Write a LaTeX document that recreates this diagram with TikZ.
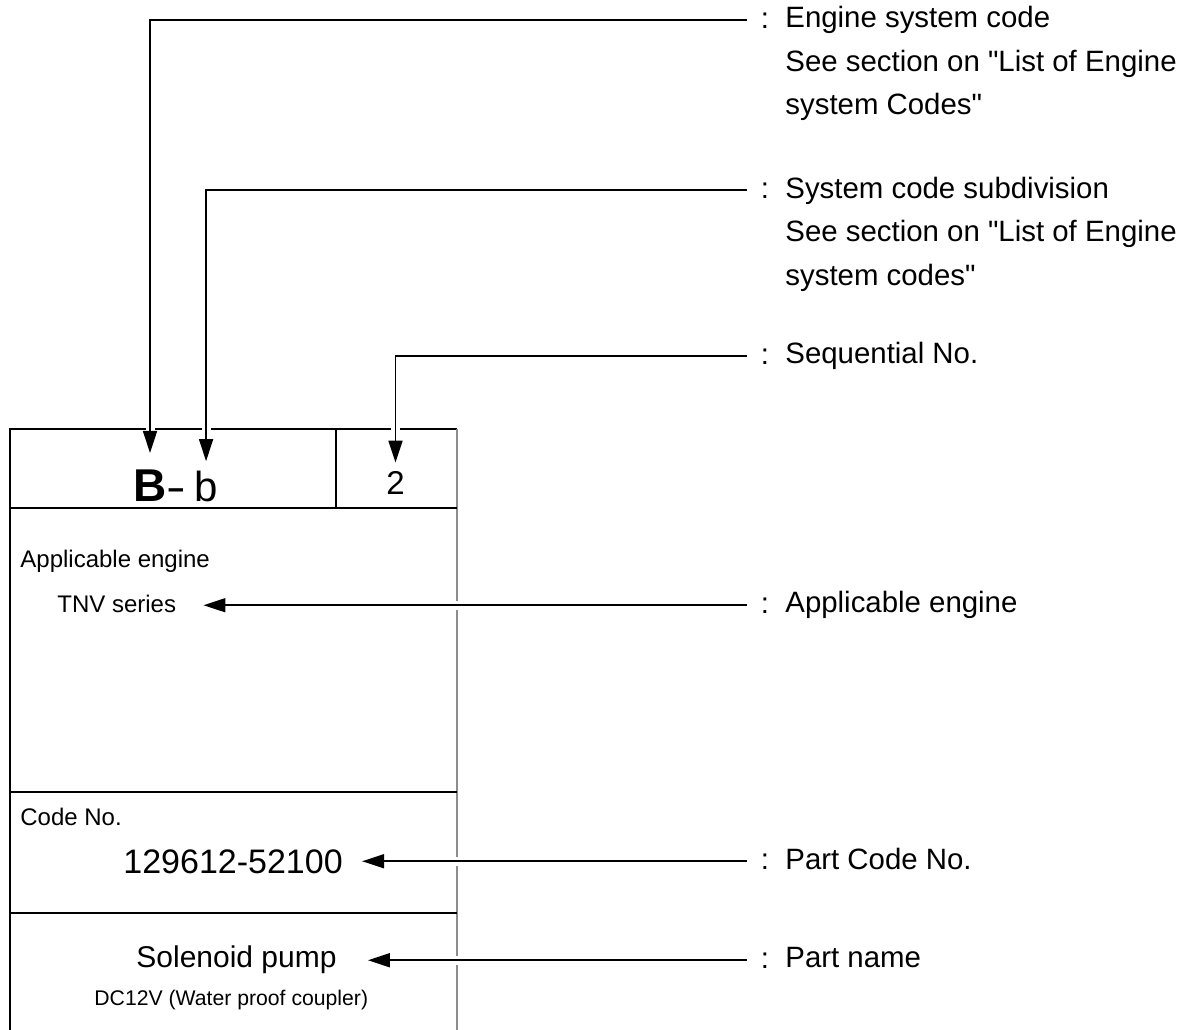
\documentclass[tikz,border=0pt]{standalone}
\usepackage{fontspec}
\setmainfont{Liberation Sans}[Ligatures=TeXOff]
\usetikzlibrary{arrows.meta,calc}
\begin{document}
\begin{tikzpicture}[
    x=0.5pt, y=-0.5pt,
    rule/.style={draw=black, line width=1pt},
    rimline/.style={draw=black!45, line width=1pt},
    lead/.style={draw, line width=0.85pt, -{Triangle[length=11pt, width=7pt]},
        preaction={draw=white, line width=4.5pt, -}},
    note/.style={font=\fontsize{14.7}{21.75}\selectfont, inner sep=0pt, align=left},
    colon/.style={note, inner xsep=7pt},
    field/.style={font=\fontsize{12}{14}\selectfont, inner sep=0pt},
    bigtxt/.style={font=\fontsize{23}{26}\selectfont, inner sep=0pt},
    midtxt/.style={font=\fontsize{21}{24}\selectfont, inner sep=0pt},
    serialtxt/.style={font=\fontsize{16.5}{18}\selectfont, inner sep=0pt},
    codetxt/.style={font=\fontsize{17}{20}\selectfont, inner sep=0pt},
    partname/.style={font=\fontsize{15}{18}\selectfont, inner sep=0pt},
    spec/.style={font=\fontsize{10.6}{13}\selectfont, inner sep=0pt}
]
\useasboundingbox (0,0) rectangle (1193,1029);

% Card
\draw[rule] (456.7,429) -- (10,429) -- (10,1035);
\draw[rimline] (456.7,429) -- (456.7,1035);
\draw[rule] (336,429) -- (336,508);
\foreach \y in {508,792,913}
    \draw[rule] (10,\y) -- (456.7,\y);

\node[bigtxt, anchor=base west] (B) at (133,501) {\bfseries B};
\node[midtxt, anchor=base west] (dash) at (166,501) {\scalebox{1.4}[1]{-}};
\node[midtxt, anchor=base west] (b) at (194,501) {b};
\node[serialtxt, anchor=base] (serial) at (395.5,494) {2};

\node[field, anchor=base west] (ae-head) at (20,567) {Applicable engine};
\node[field, anchor=base west] (tnv) at (57,612) {TNV series};
\node[field, anchor=base west] (cn-head) at (20,825) {Code No.};
\node[codetxt, anchor=base west] (pcode) at (123,873) {129612-52100};
\node[partname, anchor=base west] (pname) at (136,967) {Solenoid pump};
\node[spec, anchor=base west] (prating) at (94,1005) {DC12V (Water proof coupler)};

% Legend
\node[colon, anchor=base] (c-esc) at (765,28) {:};
\node[note, anchor=north west] (esc) at (785,6) {Engine system code\\See section on "List of Engine\\system Codes"};
\node[colon, anchor=base] (c-scs) at (765,198) {:};
\node[note, anchor=north west] (scs) at (785,176.5) {System code subdivision\\See section on "List of Engine\\system codes"};
\node[colon, anchor=base] (c-seq) at (765,364) {:};
\node[note, anchor=north west] (seqlbl) at (785,342) {Sequential No.};
\node[colon, anchor=base] (c-ae) at (765,613) {:};
\node[note, anchor=north west] (aelbl) at (785,591) {Applicable engine};
\node[colon, anchor=base] (c-pc) at (765,869) {:};
\node[note, anchor=north west] (pclbl) at (785,847.5) {Part Code No.};
\node[colon, anchor=base] (c-pn) at (765,968) {:};
\node[note, anchor=north west] (pnlbl) at (785,946.5) {Part name};

% Connections
\draw[lead] (c-esc.west) -| ([yshift=8pt]B.north);
\draw[lead] (c-scs.west) -| ([yshift=4.5pt]b.north);
\draw[lead] (c-seq.west) -| ([yshift=4pt]serial.north);
\draw[lead] (c-ae.west) -- ($(c-ae.west -| tnv.east)+(13.5pt,0)$);
\draw[lead] (c-pc.west) -- ($(c-pc.west -| pcode.east)+(9.5pt,0)$);
\draw[lead] (c-pn.west) -- ($(c-pn.west -| pname.east)+(15.5pt,0)$);

\end{tikzpicture}
\end{document}
